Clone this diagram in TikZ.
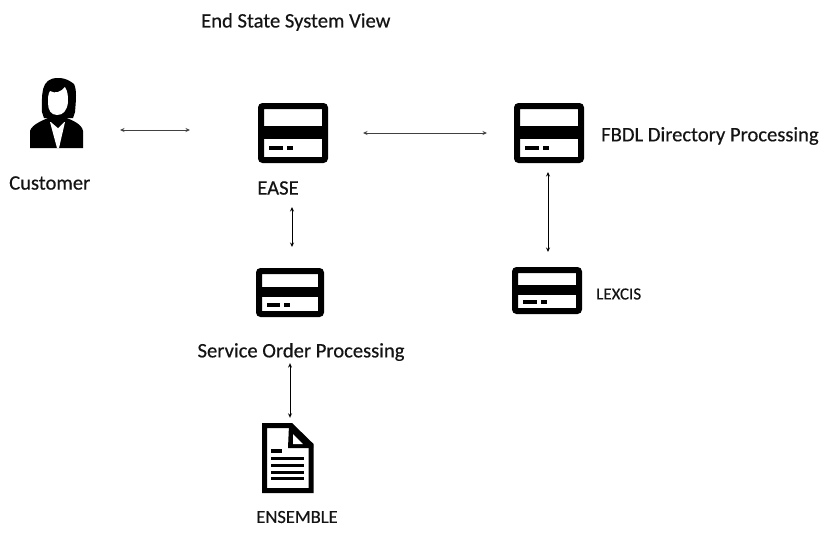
\documentclass[tikz,border=0pt]{standalone}
\usepackage{fontspec}
\setmainfont{Carlito}
\usetikzlibrary{arrows.meta}
\tikzset{
 x=1pt,y=-1pt,
 iconbox/.style={draw=black,line width=6pt,rounded corners=2pt,fill=white,inner sep=0pt},
 lbl/.style={font=\fontsize{20.6}{22}\selectfont\addfontfeature{FakeBold=0.4},text=black!92,inner sep=0pt},
 link/.style={draw=black!75,line width=0.9pt,{Stealth[open,length=4.5pt,width=4pt]}-{Stealth[open,length=4.5pt,width=4pt]}},
 linkv/.style={link,draw=black,line width=1pt},
}
\newcommand{\servericon}[5]{% name x0 y0 x1 y1
 \pgfmathsetmacro{\bw}{#4-#2}\pgfmathsetmacro{\bh}{#5-#3}
 \pgfmathsetmacro{\cx}{(#2+#4)/2}\pgfmathsetmacro{\cy}{(#3+#5)/2}
 \node[iconbox,minimum width=\bw pt-6pt,minimum height=\bh pt-6pt] (#1) at (\cx,\cy) {};
 \fill[black] (#2,#3+0.385*\bh) rectangle (#4,#3+0.6*\bh);
 \fill[black] (#2+0.16*\bw,#3+0.75*\bh-2) rectangle (#2+0.35*\bw,#3+0.75*\bh+2);
 \fill[black] (#2+0.41*\bw,#3+0.75*\bh-2) rectangle (#2+0.5*\bw,#3+0.75*\bh+2);
}
\begin{document}
\begin{tikzpicture}
\useasboundingbox (0,0) rectangle (824,536);
\fill[white] (0,0) rectangle (824,536);
\node[lbl,anchor=west] (title) at (201,22) {End State System View};
% customer
\node[inner sep=0pt,minimum width=54pt,minimum height=70pt] (cust) at (57,113) {};
\fill[black] (42,112) .. controls (42,95) and (40,78) .. (58,78) .. controls (66,78) and (70,81) .. (74,84) .. controls (77,90) and (76,100) .. (75,112) -- (73,118) -- (44,118) -- cycle;
\fill[black] (30,148) -- (30,131) .. controls (32,124) and (44,120) .. (50,117) -- (64,117) .. controls (72,120) and (82,124) .. (83,131) -- (83,148) -- cycle;
\fill[white] (50,91) .. controls (55,94) and (61,92) .. (65,87) .. controls (68,92) and (68,96) .. (68,102) .. controls (67,111) and (63,115) .. (57,115) .. controls (51,115) and (48,110) .. (48,103) .. controls (48,98) and (48,94) .. (50,91) -- cycle;
\fill[white] (50,122) -- (65,122) -- (59,148) -- (57,148) -- cycle;
\fill[black] (51,122) -- (64,122) -- (58,128) -- cycle;
\node[lbl,anchor=west] (custl) at (9,183) {Customer};
% servers
\servericon{ease}{258}{103}{328}{163}
\servericon{fbdl}{514}{103}{584}{163}
\servericon{sop}{256}{268}{324}{317}
\servericon{lex}{512}{267}{582}{314}
\node[lbl] (easel) at (278,188) {EASE};
\node[lbl,anchor=west] (fbdll) at (601,136) {FBDL Directory Processing};
\node[lbl,anchor=west,font=\fontsize{17}{19}\selectfont\addfontfeature{FakeBold=0.4}] (lexl) at (596,294) {LEXCIS};
\node[lbl] (sopl) at (301,352) {Service Order Processing};
% document
\node[inner sep=0pt,minimum width=52pt,minimum height=70pt] (ens) at (288,458) {};
\draw[black,line width=5pt,line join=miter,fill=white] (264.5,425.5) -- (291,425.5) -- (311,445) -- (311,490.5) -- (264.5,490.5) -- cycle;
\fill[black] (289,425) -- (313,445) -- (313,448) -- (288,448) -- cycle;
\fill[white] (293,434) -- (303,444) -- (293,444) -- cycle;
\fill[black] (271,449) rectangle (282,453);
\foreach \yy in {457,464,471,477}{\fill[black] (271,\yy) rectangle (304,\yy+3);}
\node[lbl,font=\fontsize{18.5}{20}\selectfont\addfontfeature{FakeBold=0.4}] (ensl) at (297,517) {ENSEMBLE};
% connectors
\coordinate (c1) at (120,130); \coordinate (c2) at (190,130);
\draw[link] (c1) -- (c2);
\draw[link] ([shift={(35,0)}]ease.east) -- ([shift={(-27,0)}]fbdl.west);
\draw[linkv] ([shift={(-1,9)}]fbdl.south) -- ([shift={(1,-15)}]lex.north);
\draw[linkv] ([shift={(-1,44)}]ease.south) -- ([shift={(2,-21)}]sop.north);
\draw[linkv] ([shift={(-11,2)}]sopl.south) -- ([shift={(2,-5)}]ens.north);
\end{tikzpicture}
\end{document}
